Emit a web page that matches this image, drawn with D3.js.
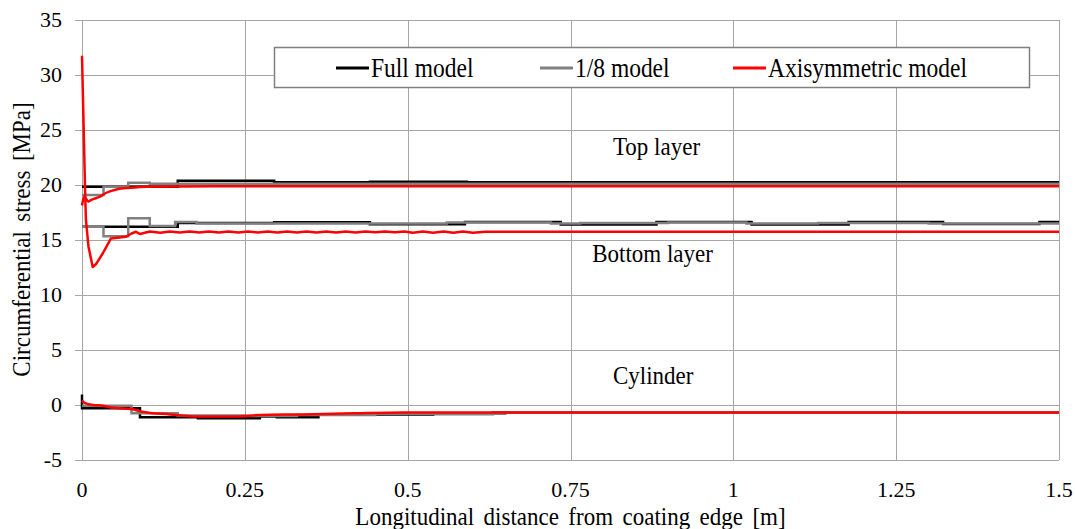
<!DOCTYPE html>
<html>
<head>
<meta charset="utf-8">
<script src="https://cdn.jsdelivr.net/npm/d3@7"></script>
</head>
<body style="margin:0">
<div id="svgDiv"></div>
<script>
//chart data (x in m, stress in MPa)
var xTicks = [0, 0.25, 0.5, 0.75, 1, 1.25, 1.5];
var xTickLabels = ["0", "0.25", "0.5", "0.75", "1", "1.25", "1.5"];
var yTicks = [-5, 0, 5, 10, 15, 20, 25, 30, 35];

var seriesNames = ["Full model", "1/8 model", "Axisymmetric model"];
var seriesColors = ["#000000", "#808080", "#ff0000"];

var layerNames = ["Top layer", "Bottom layer", "Cylinder"];
var layerLabelPos = [[0.882, 22.7], [0.876, 13.0], [0.877, 1.9]];

//full model (step values start at each x)
var fullTopX = [0, 0.147, 0.295, 0.442, 0.591, 1.5];
var fullTopY = [19.8, 20.35, 20.2, 20.25, 20.2, 20.2];
var fullBottomX = [0, 0.147, 0.295, 0.442, 0.588, 0.735, 0.882, 1.028, 1.177, 1.322, 1.47, 1.5];
var fullBottomY = [16.15, 16.5, 16.56, 16.38, 16.6, 16.36, 16.6, 16.36, 16.6, 16.42, 16.6, 16.6];
var fullCylX = [0, 0, 0.089, 0.178, 0.273, 0.299, 0.363, 0.539, 0.631, 1.5];
var fullCylY = [0.9, -0.35, -1.15, -1.25, -1.1, -1.15, -0.9, -0.86, -0.75, -0.75];

//1/8 model
var eighthTopX = [0, 0.033, 0.071, 0.104, 1.5];
var eighthTopY = [19.05, 19.8, 20.15, 20.07, 20.07];
var eighthBottomX = [0, 0.033, 0.071, 0.104, 0.143, 0.176, 0.56, 0.72, 0.765, 0.9, 1.02, 1.13, 1.3, 1.5];
var eighthBottomY = [16.15, 15.3, 16.93, 16.23, 16.6, 16.45, 16.55, 16.45, 16.5, 16.55, 16.45, 16.5, 16.45, 16.45];
var eighthCylX = [0, 0.076, 0.147, 0.25, 0.33, 0.45, 0.65, 1.5];
var eighthCylY = [-0.12, -0.8, -1.0, -1.05, -0.95, -0.85, -0.75, -0.75];

//axisymmetric model
var axiTopX = [0, 0.0036, 0.0097, 0.0143, 0.0276, 0.0374, 0.0527, 0.0737, 0.1, 0.2, 1.5];
var axiTopY = [18.1, 18.9, 18.45, 18.6, 18.9, 19.25, 19.55, 19.7, 19.8, 19.83, 19.83];
var axiBottomX = [0, 0.0026, 0.0046, 0.006, 0.010, 0.0164, 0.022, 0.032, 0.0445, 0.0676, 0.076, 0.083, 0.089, 0.104,
    0.12, 0.135, 0.15, 0.165, 0.18, 0.195, 0.21, 0.225, 0.24, 0.255, 0.27, 0.285, 0.3, 0.315, 0.33, 0.345,
    0.36, 0.375, 0.39, 0.405, 0.42, 0.435, 0.45, 0.465, 0.48, 0.495, 0.508, 0.523, 0.539, 0.555, 0.57, 0.585, 0.6, 0.62, 1.5];
var axiBottomY = [31.7, 25.0, 19.8, 16.8, 14.35, 12.5, 12.8, 13.75, 15.1, 15.25, 15.55, 15.7, 15.5, 15.72,
    15.62, 15.72, 15.64, 15.72, 15.63, 15.72, 15.64, 15.72, 15.63, 15.72, 15.64, 15.72, 15.63, 15.72, 15.64, 15.72,
    15.64, 15.72, 15.64, 15.72, 15.64, 15.72, 15.65, 15.72, 15.65, 15.72, 15.62, 15.72, 15.62, 15.72, 15.62, 15.72, 15.62, 15.71, 15.71];
var axiCylX = [0, 0.004, 0.017, 0.030, 0.048, 0.076, 0.092, 0.135, 0.178, 0.237, 0.273, 0.34, 0.417, 0.493, 0.6, 1.5];
var axiCylY = [0.35, 0.15, -0.05, -0.1, -0.3, -0.41, -0.65, -0.9, -1.1, -1.1, -0.95, -0.9, -0.8, -0.72, -0.72, -0.72];

//global variables
var svg, scaleX, scaleY;
var svgWidth = 1075, svgHeight = 529;
var plotLeft = 82, plotRight = 1059, plotTop = 19.5, plotBottom = 459.5;

svg = d3.select("#svgDiv")
    .append("svg")
    .attr("width", svgWidth)
    .attr("height", svgHeight);

setScales();
drawGrid();
drawSeries();
drawLabels();
drawLegend();

function setScales(){
    scaleX = d3.scaleLinear().domain([0, 1.5]).range([plotLeft, plotRight]);
    scaleY = d3.scaleLinear().domain([-5, 35]).range([plotBottom, plotTop]);
}

//text is set at double size and scaled down; sx narrows it like the reference lettering
function serifText(sel, size, sx, extra){
    return sel
        .attr("font-family", "Liberation Serif")
        .style("font-family", "'Liberation Serif'", "important")
        .style("font-size", (size * 2) + "px")
        .attr("transform", function(){
            var p = this.__pos;
            return "translate(" + p[0] + "," + p[1] + ")" + (extra || "") + " scale(" + (0.5 * sx) + ",0.5)";
        });
}

function drawGrid(){
    var grid = svg.append("g").attr("shape-rendering", "crispEdges");

    grid.selectAll("line.hgrid")
        .data(yTicks)
        .enter().append("line")
        .attr("class", "hgrid")
        .attr("x1", plotLeft - 7)
        .attr("x2", plotRight)
        .attr("y1", function(d){ return Math.round(scaleY(d)) + 0.5; })
        .attr("y2", function(d){ return Math.round(scaleY(d)) + 0.5; })
        .attr("stroke", "#a6a6a6")
        .attr("stroke-width", 1);

    grid.selectAll("line.vgrid")
        .data(xTicks)
        .enter().append("line")
        .attr("class", "vgrid")
        .attr("x1", function(d){ return Math.round(scaleX(d)) + 0.5; })
        .attr("x2", function(d){ return Math.round(scaleX(d)) + 0.5; })
        .attr("y1", plotTop)
        .attr("y2", plotBottom)
        .attr("stroke", "#a6a6a6")
        .attr("stroke-width", 1);

    //tick labels
    var ylab = svg.selectAll("text.ylab")
        .data(yTicks)
        .enter().append("text")
        .attr("class", "ylab")
        .attr("dy", "0.35em")
        .attr("text-anchor", "end")
        .each(function(d){ this.__pos = [62, scaleY(d)]; })
        .text(function(d){ return d; });
    serifText(ylab, 22, 1);

    var xlab = svg.selectAll("text.xlab")
        .data(xTicks)
        .enter().append("text")
        .attr("class", "xlab")
        .attr("text-anchor", "middle")
        .each(function(d){ this.__pos = [scaleX(d), 497]; })
        .text(function(d, i){ return xTickLabels[i]; });
    serifText(xlab, 22, 1);
}

function toPoints(xs, ys){
    return xs.map(function(x, i){ return [x, ys[i]]; });
}

function drawSeries(){
    var stepLine = d3.line()
        .x(function(d){ return scaleX(d[0]); })
        .y(function(d){ return scaleY(d[1]); })
        .curve(d3.curveStepAfter);

    var smoothLine = d3.line()
        .x(function(d){ return scaleX(d[0]); })
        .y(function(d){ return scaleY(d[1]); })
        .curve(d3.curveMonotoneX);

    var straightLine = d3.line()
        .x(function(d){ return scaleX(d[0]); })
        .y(function(d){ return scaleY(d[1]); });

    var fullSets = [toPoints(fullTopX, fullTopY), toPoints(fullBottomX, fullBottomY), toPoints(fullCylX, fullCylY)];
    var eighthSets = [toPoints(eighthTopX, eighthTopY), toPoints(eighthBottomX, eighthBottomY), toPoints(eighthCylX, eighthCylY)];
    var axiSets = [toPoints(axiTopX, axiTopY), toPoints(axiBottomX, axiBottomY), toPoints(axiCylX, axiCylY)];

    svg.append("g").selectAll("path")
        .data(fullSets)
        .enter().append("path")
        .attr("d", stepLine)
        .attr("fill", "none")
        .attr("stroke", seriesColors[0])
        .attr("stroke-width", 2.5);

    svg.append("g").selectAll("path")
        .data(eighthSets)
        .enter().append("path")
        .attr("d", stepLine)
        .attr("fill", "none")
        .attr("stroke", seriesColors[1])
        .attr("stroke-width", 2.5);

    svg.append("g").selectAll("path")
        .data(axiSets)
        .enter().append("path")
        .attr("d", function(d, i){ return i == 1 ? straightLine(d) : smoothLine(d); })
        .attr("fill", "none")
        .attr("stroke", seriesColors[2])
        .attr("stroke-width", 2.5)
        .attr("stroke-linejoin", "round");
}

function drawLabels(){
    var layers = svg.selectAll("text.layer")
        .data(layerNames)
        .enter().append("text")
        .attr("class", "layer")
        .attr("text-anchor", "middle")
        .each(function(d, i){ this.__pos = [scaleX(layerLabelPos[i][0]), scaleY(layerLabelPos[i][1])]; })
        .text(function(d){ return d; });
    serifText(layers, 25, 0.92);

    //the reference cuts this title at the bottom edge; keep it just inside
    var xTitle = svg.append("text")
        .attr("text-anchor", "middle")
        .style("word-spacing", "8px")
        .each(function(){ this.__pos = [(plotLeft + plotRight) / 2, 525]; })
        .text("Longitudinal distance from coating edge [m]");
    serifText(xTitle, 25, 0.92);

    var yTitle = svg.append("text")
        .attr("text-anchor", "middle")
        .style("word-spacing", "8px")
        .each(function(){ this.__pos = [30, (plotTop + plotBottom) / 2]; })
        .text("Circumferential stress [MPa]");
    serifText(yTitle, 25, 0.92, " rotate(-90)");
}

function drawLegend(){
    var legend = svg.append("g");

    legend.append("rect")
        .attr("x", 274.5)
        .attr("y", 47.5)
        .attr("width", 755)
        .attr("height", 40)
        .attr("fill", "#fff")
        .attr("stroke", "#808080")
        .attr("stroke-width", 1.5);

    var lineStart = [336, 540, 733];

    var items = legend.selectAll("g.item")
        .data(seriesNames)
        .enter().append("g")
        .attr("class", "item");

    items.append("line")
        .attr("x1", function(d, i){ return lineStart[i]; })
        .attr("x2", function(d, i){ return lineStart[i] + 33; })
        .attr("y1", 68)
        .attr("y2", 68)
        .attr("stroke", function(d, i){ return seriesColors[i]; })
        .attr("stroke-width", 3);

    var texts = items.append("text")
        .each(function(d, i){ this.__pos = [lineStart[i] + 35, 77]; })
        .text(function(d){ return d; });
    serifText(texts, 27, 0.87);
}
</script>
</body>
</html>
